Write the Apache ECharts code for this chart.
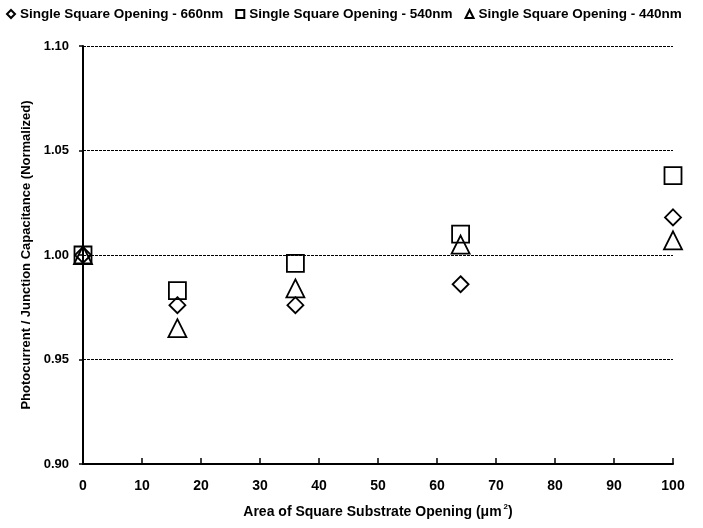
<!DOCTYPE html>
<html>
<head>
<meta charset="utf-8">
<script src="https://cdn.jsdelivr.net/npm/echarts@6/dist/echarts.min.js"></script>
<style>
  html, body { margin: 0; padding: 0; background: #fff; }
  #chart { width: 703px; height: 528px; }
</style>
</head>
<body>
<div id="chart"></div>
<script>
// opening area (um^2)
var areas = [0, 16, 36, 64, 100];
// normalized photocurrent / junction capacitance
var nm660 = [1.000, 0.976, 0.976, 0.986, 1.018];
var nm540 = [1.000, 0.983, 0.996, 1.010, 1.038];
var nm440 = [1.000, 0.965, 0.984, 1.005, 1.007];

var seriesNames = ['Single Square Opening - 660nm', 'Single Square Opening - 540nm', 'Single Square Opening - 440nm'];
var symbols = ['diamond', 'rect', 'triangle'];
var sizes = [16, 17, 18];

function pairs(vals) {
    return areas.map(function (a, i) { return [a, vals[i]]; });
}

var chart = echarts.init(document.getElementById('chart'));
var font = 'Liberation Sans, Arial, sans-serif';

var option = {
    animation: false,
    textStyle: { fontFamily: font },
    legend: {
        top: 2,
        left: 1,
        itemWidth: 8,
        itemHeight: 8,
        itemGap: 12,
        textStyle: { fontSize: 13.5, fontWeight: 'bold', color: '#000', fontFamily: font, padding: [0, 0, 0, 0] },
        data: seriesNames.map(function (n, i) {
            return { name: n, icon: symbols[i], itemStyle: { color: '#fff', borderColor: '#000', borderWidth: 2 } };
        })
    },
    grid: { left: 83, right: 30, top: 46, bottom: 64, containLabel: false },
    xAxis: {
        type: 'value',
        min: 0, max: 100, interval: 10,
        name: 'Area of Square Substrate Opening (μm{sup|2})',
        nameLocation: 'middle',
        nameGap: 39,
        nameTextStyle: {
            fontSize: 14, fontWeight: 'bold', color: '#000', fontFamily: font,
            rich: { sup: { fontSize: 8, fontWeight: 'bold', verticalAlign: 'top', padding: [0, 0, 10, 2] } }
        },
        axisLine: { lineStyle: { color: '#000', width: 2 } },
        axisTick: { inside: true, length: 6, lineStyle: { color: '#000', width: 1.5 } },
        axisLabel: { fontSize: 14, fontWeight: 'bold', color: '#000', margin: 15 },
        splitLine: { show: false }
    },
    yAxis: {
        type: 'value',
        min: 0.90, max: 1.10, interval: 0.05,
        name: 'Photocurrent / Junction Capacitance (Normalized)',
        nameLocation: 'middle',
        nameGap: 50,
        nameTextStyle: { fontSize: 13, fontWeight: 'bold', color: '#000', fontFamily: font },
        axisLine: { show: true, lineStyle: { color: '#000', width: 2 } },
        axisTick: { show: true, length: 4, lineStyle: { color: '#000', width: 1.5 } },
        axisLabel: {
            fontSize: 13, fontWeight: 'bold', color: '#000', margin: 14,
            formatter: function (v) { return v.toFixed(2); }
        },
        splitLine: { show: true, lineStyle: { color: '#000', type: [3, 1], width: 1 } }
    },
    series: [nm660, nm540, nm440].map(function (vals, i) {
        return {
            name: seriesNames[i],
            type: 'scatter',
            symbol: symbols[i],
            symbolSize: sizes[i],
            itemStyle: { color: 'rgba(255,255,255,0)', borderColor: '#000', borderWidth: 1.8, opacity: 1 },
            data: pairs(vals)
        };
    })
};

chart.setOption(option);
</script>
</body>
</html>
